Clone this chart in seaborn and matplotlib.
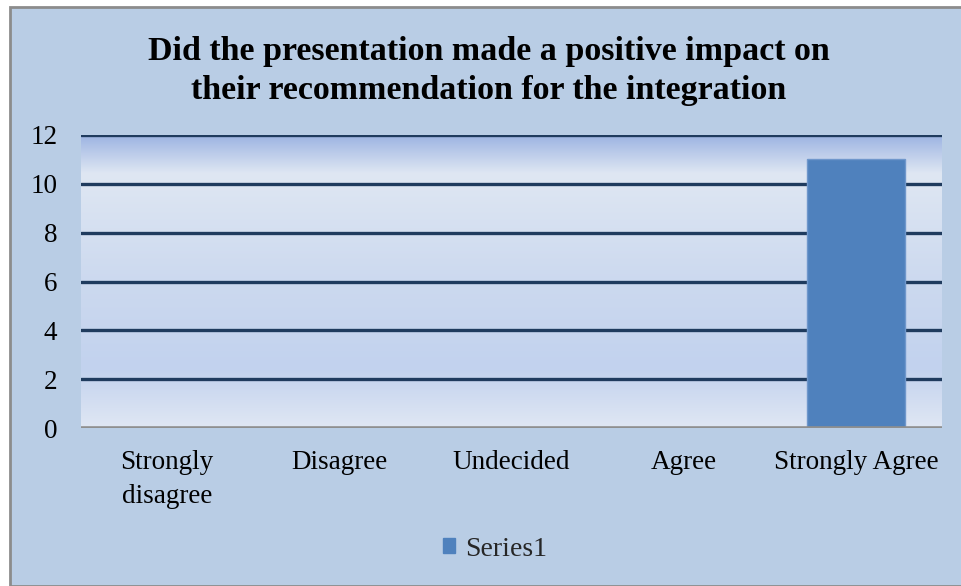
import numpy as np
import pandas as pd
import matplotlib
matplotlib.use("Agg")
import matplotlib.pyplot as plt
import seaborn as sns
from matplotlib.colors import LinearSegmentedColormap
from matplotlib.patches import Rectangle, Patch

categories = ["Strongly\ndisagree", "Disagree", "Undecided", "Agree", "Strongly Agree"]
values = [0, 0, 0, 0, 11]
series_name = "Series1"
title = "Did the presentation made a positive impact on\ntheir recommendation for the integration"
yticks = [0, 2, 4, 6, 8, 10, 12]

sns.set_theme(style="white")
plt.rcParams['font.family'] = ['Liberation Serif', 'DejaVu Serif']

df = pd.DataFrame({"category": categories, "value": values})

W, H = 961, 586
fig = plt.figure(figsize=(W / 100, H / 100), dpi=100)
fig.patch.set_facecolor("white")
# chart area background with frame
fig.patches.append(Rectangle((10 / W, 0), 1, 1 - 7 / H, transform=fig.transFigure,
                             facecolor="#b9cde5", edgecolor="#8c8c8c", linewidth=2.0, zorder=-10))

ax = fig.add_axes([81 / W, 1 - 428 / H, (942 - 81) / W, (428 - 135) / H])
ax.set_facecolor("none")

# gradient background of plot area
grad_colors = [(0.0, "#9db4e2"), (0.13, "#dfe7f3"), (0.5, "#ccd9ef"), (0.8, "#c2d2ee"), (1.0, "#e0e7f4")]
cmap = LinearSegmentedColormap.from_list("bg", grad_colors)
grad = np.linspace(0, 1, 256).reshape(-1, 1)
ax.imshow(grad, aspect="auto", cmap=cmap, extent=(-0.5, 4.5, 0, 12), origin="upper", zorder=0)

sns.barplot(data=df, x="category", y="value", color="#4f81bd", saturation=1, width=0.565,
            ax=ax, zorder=3, edgecolor="#6f97cc", linewidth=1.0)

ax.set_xlim(-0.5, 4.5)
ax.set_ylim(0, 12)
ax.set_yticks(yticks)
for y in yticks[1:]:
    ax.axhline(y, color="#1f3b5e", linewidth=2.4, zorder=2)
ax.axhline(0, color="#8f8f8f", linewidth=2.6, zorder=4)

for s in ax.spines.values():
    s.set_visible(False)
ax.set_xlabel("")
ax.set_ylabel("")
ax.tick_params(axis="both", length=0, labelsize=19.5, colors="black")
ax.tick_params(axis="y", pad=17)
ax.tick_params(axis="x", pad=16)
for lbl in ax.get_yticklabels():
    lbl.set_horizontalalignment("right")
for lbl in ax.get_xticklabels():
    lbl.set_verticalalignment("top")
    lbl.set_linespacing(1.45)

fig.text(0.5 + 8 / W, 1 - 71 / H, title, ha="center", va="center", fontsize=24.5,
         fontweight="bold", linespacing=1.32, color="black")

handle = Patch(facecolor="#4f81bd", edgecolor="#4f81bd")
fig.legend([handle], [series_name], loc="center", bbox_to_anchor=(0.515, 1 - 549 / H),
           frameon=False, fontsize=20, handlelength=0.45, handleheight=0.45, handletextpad=0.35)

fig.savefig("out.png", dpi=100)
